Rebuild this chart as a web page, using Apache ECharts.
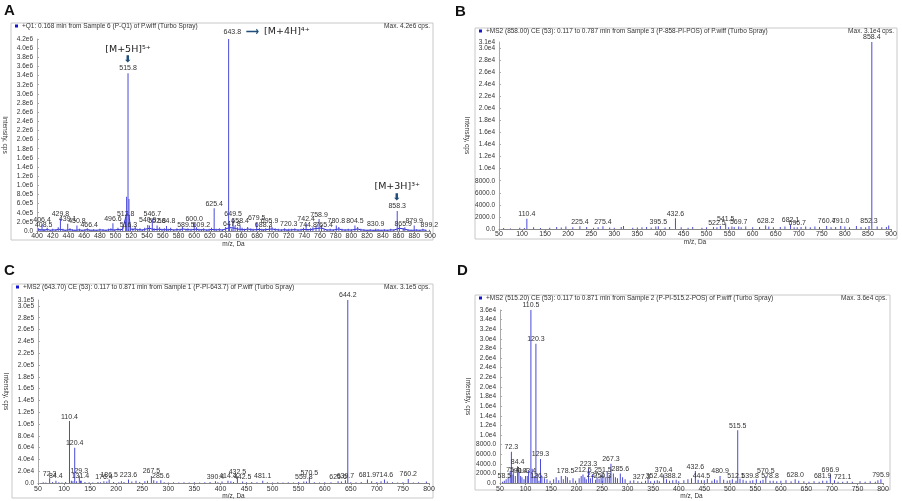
<!DOCTYPE html>
<html>
<head>
<meta charset="utf-8">
<script src="https://cdn.jsdelivr.net/npm/echarts@6/dist/echarts.min.js"></script>
<style>
  html, body { margin: 0; padding: 0; background: #fff; }
  #chart { width: 902px; height: 501px; }
</style>
</head>
<body>
<div id="chart"></div>
<script>
// panel titles
const panelLetters = ['A', 'B', 'C', 'D'];
const panelTitles = [
  '+Q1: 0.168 min from Sample 6 (P-Q1) of P.wiff (Turbo Spray)',
  '+MS2 (858.00) CE (53): 0.117 to 0.787 min from Sample 3 (P-858-PI-POS) of P.wiff (Turbo Spray)',
  '+MS2 (643.70) CE (53): 0.117 to 0.871 min from Sample 1 (P-PI-643.7) of P.wiff (Turbo Spray)',
  '+MS2 (515.20) CE (53): 0.117 to 0.871 min from Sample 2 (P-PI-515.2-POS) of P.wiff (Turbo Spray)'
];
const maxTexts = ['Max. 4.2e6 cps.', 'Max. 3.1e4 cps.', 'Max. 3.1e5 cps.', 'Max. 3.6e4 cps.'];

// axis ranges: [xmin, xmax, xstep, ymax, ystep]
const axisA = [400, 900, 20, 4200000, 200000];
const axisB = [50, 900, 50, 31000, 2000];
const axisC = [50, 800, 50, 310000, 20000];
const axisD = [50, 800, 50, 36000, 2000];
// panels whose max is not on a regular tick get an extra max label
const extraMaxPanels = [1, 2];

// A: Q1 scan, labelled peaks [m/z, intensity]
const aPeaks = [
  [406.4, 150000], [408.5, 40000], [429.8, 270000], [439.1, 160000], [450.8, 120000],
  [466.4, 30000], [496.6, 170000], [512.8, 280000], [515.8, 3450000], [516.3, 40000],
  [540.9, 130000], [546.7, 270000], [552.8, 120000], [564.8, 110000], [589.5, 40000],
  [600.0, 170000], [609.2, 40000], [625.4, 500000], [643.8, 4200000], [647.8, 50000],
  [649.5, 280000], [658.4, 120000], [679.5, 180000], [688.3, 40000], [695.9, 120000],
  [720.3, 50000], [742.4, 160000], [744.8, 40000], [758.9, 260000], [765.4, 40000],
  [780.8, 120000], [804.5, 120000], [830.9, 50000], [858.3, 440000], [865.9, 60000],
  [879.9, 120000], [899.2, 30000]
];
// A: unlabelled baseline
const aNoise = [
  [402, 60000], [404, 30000], [410, 40000], [413, 70000], [417, 30000], [420, 50000],
  [424, 40000], [427, 80000], [433, 50000], [436, 30000], [442, 60000], [445, 40000],
  [448, 30000], [454, 50000], [457, 30000], [461, 40000], [464, 60000], [469, 30000],
  [472, 40000], [476, 30000], [480, 50000], [484, 40000], [488, 30000], [491, 50000],
  [494, 60000], [499, 40000], [503, 70000], [506, 50000], [509, 80000], [514, 750000],
  [517, 700000], [519, 90000], [522, 60000], [525, 100000], [528, 50000], [531, 60000],
  [534, 40000], [537, 70000], [543, 120000], [549, 60000], [556, 80000], [559, 50000],
  [562, 60000], [567, 50000], [570, 70000], [574, 40000], [578, 60000], [582, 50000],
  [585, 90000], [592, 60000], [596, 50000], [603, 80000], [606, 50000], [612, 60000],
  [616, 40000], [619, 50000], [622, 70000], [628, 50000], [632, 60000], [636, 40000],
  [640, 90000], [645, 150000], [652, 120000], [655, 80000], [661, 70000], [664, 50000],
  [668, 90000], [672, 60000], [675, 50000], [683, 70000], [686, 50000], [691, 60000],
  [699, 90000], [703, 60000], [707, 50000], [711, 40000], [715, 60000], [718, 40000],
  [724, 50000], [728, 60000], [732, 40000], [736, 50000], [739, 70000], [748, 60000],
  [751, 80000], [755, 110000], [762, 130000], [769, 40000], [773, 50000], [777, 40000],
  [784, 90000], [788, 50000], [792, 40000], [796, 50000], [800, 40000], [808, 90000],
  [812, 50000], [816, 40000], [820, 30000], [824, 40000], [828, 30000], [834, 40000],
  [838, 30000], [842, 40000], [846, 30000], [850, 50000], [854, 40000], [861, 120000],
  [868, 80000], [872, 40000], [876, 30000], [883, 40000], [887, 30000], [891, 50000],
  [895, 30000]
];
const aNotes = [[515.8, '[M+5H]⁵⁺', 'down'], [643.8, '[M+4H]⁴⁺', 'right'], [858.3, '[M+3H]³⁺', 'down']];

// B: MS2 of 858
const bPeaks = [
  [110.4, 1700], [225.4, 450], [275.4, 450], [395.5, 450], [432.6, 1800], [522.5, 300],
  [541.5, 900], [569.7, 400], [628.2, 600], [682.1, 700], [696.7, 300], [760.4, 500],
  [791.0, 500], [852.3, 500], [858.4, 31000]
];
const bNoise = [
  [60, 150], [75, 100], [95, 200], [105, 150], [125, 300], [140, 150], [160, 200], [175, 350],
  [185, 250], [195, 400], [210, 300], [240, 350], [255, 200], [265, 300], [290, 250], [300, 200],
  [315, 350], [320, 500], [340, 200], [350, 250], [360, 300], [370, 350], [380, 250], [390, 400],
  [410, 250], [420, 350], [445, 300], [460, 200], [470, 350], [490, 200], [500, 300], [515, 350],
  [530, 500], [548, 300], [555, 400], [560, 350], [575, 300], [585, 400], [600, 300], [615, 350],
  [635, 400], [645, 300], [660, 350], [670, 400], [690, 300], [705, 350], [715, 400], [725, 300],
  [735, 400], [745, 350], [770, 300], [780, 350], [800, 400], [810, 300], [825, 500], [835, 350],
  [845, 300], [870, 400], [880, 300], [890, 350], [895, 600]
];

// C: MS2 of 643.7
const cPeaks = [
  [72.3, 8000], [84.4, 4000], [110.4, 105000], [120.4, 60000], [129.3, 13000], [131.4, 4000],
  [176.4, 3000], [186.5, 6000], [223.6, 6000], [267.5, 12000], [285.6, 5000], [390.4, 3000],
  [414.4, 4000], [432.5, 11000], [442.5, 2500], [481.1, 4000], [559.8, 2500], [570.5, 10000],
  [625.6, 3000], [639.7, 5000], [644.2, 310000], [681.9, 6000], [714.6, 6000], [760.2, 7000]
];
const cNoise = [
  [60, 1500], [65, 1000], [78, 2000], [90, 1500], [96, 1000], [103, 2000], [114, 4000], [117, 3000],
  [124, 3000], [133, 4000], [140, 2000], [148, 1500], [155, 1000], [165, 2000], [170, 1500], [182, 2500],
  [195, 2000], [205, 1500], [210, 3000], [215, 2000], [230, 2500], [238, 4000], [245, 2000], [255, 3000],
  [260, 4000], [272, 5000], [278, 3000], [292, 1500], [300, 1000], [310, 1500], [320, 1000], [330, 1500],
  [340, 1000], [350, 1500], [360, 1000], [370, 1500], [380, 2000], [395, 1500], [403, 2500], [420, 3000],
  [425, 2000], [450, 1500], [460, 2000], [470, 1500], [490, 1500], [500, 1000], [510, 1500], [520, 1000],
  [530, 1500], [540, 1000], [550, 2000], [565, 2500], [580, 1500], [590, 1000], [600, 1500], [612, 1500],
  [632, 2500], [650, 1500], [660, 1500], [670, 2000], [690, 3000], [700, 2000], [708, 3000], [720, 2500],
  [730, 1500], [740, 1000], [750, 1500], [770, 1000], [780, 1500], [795, 2500]
];

// D: MS2 of 515.2
const dPeaks = [
  [58.5, 500], [72.3, 6500], [75.4, 1800], [84.4, 3500], [90.4, 1500], [103.4, 1500],
  [110.5, 36000], [120.3, 29000], [126.3, 500], [129.3, 5000], [178.5, 1500], [212.5, 1800],
  [223.3, 3000], [237.2, 700], [250.3, 500], [251.5, 1700], [267.3, 4000], [285.6, 2000],
  [327.3, 300], [352.4, 500], [370.4, 1800], [388.2, 600], [432.6, 2500], [444.5, 600],
  [480.9, 1500], [512.1, 500], [515.5, 11000], [539.8, 500], [570.5, 1500], [578.8, 500],
  [628.0, 800], [681.9, 500], [696.9, 1800], [721.1, 300], [795.9, 800]
];
const dNoise = [
  [55, 300], [62, 800], [66, 1200], [70, 2500], [76, 3000], [80, 1500], [87, 2500], [93, 1200],
  [97, 800], [100, 1500], [106, 2500], [113, 3000], [117, 1500], [123, 2000], [132, 1500], [137, 1000],
  [142, 800], [148, 500], [155, 800], [160, 1200], [165, 600], [170, 1500], [174, 800], [182, 1200],
  [187, 600], [193, 1000], [198, 500], [205, 1000], [209, 1500], [216, 1200], [219, 800], [227, 1000],
  [231, 1800], [240, 1200], [244, 900], [248, 1500], [256, 1200], [260, 2500], [264, 1500], [272, 2000],
  [276, 1200], [280, 1000], [290, 1200], [295, 800], [305, 500], [312, 600], [320, 400], [335, 500],
  [340, 800], [345, 400], [358, 600], [362, 400], [376, 800], [382, 500], [395, 700], [400, 400],
  [410, 600], [418, 800], [425, 1000], [438, 700], [450, 600], [456, 900], [465, 500], [470, 800],
  [475, 600], [488, 700], [495, 500], [500, 600], [505, 800], [520, 900], [526, 700], [532, 500],
  [545, 600], [552, 800], [560, 500], [565, 700], [585, 500], [592, 400], [600, 500], [610, 600],
  [620, 400], [635, 500], [645, 400], [655, 300], [665, 400], [675, 300], [690, 500], [705, 600],
  [712, 300], [730, 400], [740, 300], [755, 400], [765, 300], [775, 400], [785, 300], [790, 600]
];

// pixel layout of the four plot areas and their frames
const grids = [
  { left: 37, top: 39, width: 393, height: 192 },
  { left: 499, top: 42, width: 392, height: 187 },
  { left: 38, top: 300, width: 391, height: 187 },
  { left: 500, top: 310, width: 383, height: 174 }
];
const frames = [
  [11, 23, 422, 217],
  [475, 28, 422, 211],
  [12, 284, 421, 214],
  [475, 295, 415, 195]
];
const letterPos = [[4, 3], [455, 4], [4, 263], [457, 263]];

const FONT = 'Liberation Sans';
const BAR = '#4a4ad8';

function fmtY(v) {
  if (v === 0) return '0.0';
  if (v < 10000) return v.toFixed(1);
  const e = Math.floor(Math.log10(v) + 1e-9);
  return (v / Math.pow(10, e)).toFixed(1) + 'e' + e;
}

function peakData(noise, peaks, notes) {
  const items = noise.map(p => ({ value: p }));
  peaks.forEach(p => {
    const item = { value: p, label: { show: true } };
    const note = (notes || []).find(n => n[0] === p[0]);
    if (note) {
      if (note[2] === 'down') {
        item.label.formatter = '{n|' + note[1] + '}\n{a|⬇}\n{v|' + p[0].toFixed(1) + '}';
      } else {
        item.label.formatter = '{v|' + p[0].toFixed(1) + '}{a|  ⟶  }{n|' + note[1] + '}';
        item.label.offset = [38, 0];
      }
    }
    items.push(item);
  });
  return items;
}

const axes = [axisA, axisB, axisC, axisD];
const peakSets = [[aNoise, aPeaks, aNotes], [bNoise, bPeaks], [cNoise, cPeaks], [dNoise, dPeaks]];
const yLabelStyle = { fontSize: 6.5, color: '#333', margin: 4, fontFamily: FONT };

const option = {
  animation: false,
  backgroundColor: '#fff',
  textStyle: { fontFamily: FONT },
  grid: grids,
  xAxis: axes.map((a, i) => ({
    type: 'value', gridIndex: i, min: a[0], max: a[1], interval: a[2],
    name: 'm/z, Da', nameLocation: 'middle', nameGap: 9,
    nameTextStyle: { fontSize: 6.5, color: '#333', fontFamily: FONT },
    splitLine: { show: false },
    axisLine: { lineStyle: { color: '#888', width: 1 } },
    axisTick: { length: 2, lineStyle: { color: '#888' } },
    axisLabel: { fontSize: 7, color: '#333', margin: 2, fontFamily: FONT, showMinLabel: true, showMaxLabel: true }
  })),
  yAxis: axes.map((a, i) => ({
    type: 'value', gridIndex: i, min: 0, max: a[3], interval: a[4],
    name: 'Intensity, cps', nameLocation: 'middle', nameRotate: -90, nameGap: 29,
    nameTextStyle: { fontSize: 6.5, color: '#333', fontFamily: FONT },
    splitLine: { show: false },
    axisLine: { show: true, lineStyle: { color: '#aaa', width: 1 } },
    axisTick: { show: true, length: 2, inside: true, lineStyle: { color: '#aaa' } },
    axisLabel: Object.assign({ formatter: fmtY }, yLabelStyle)
  })).concat(extraMaxPanels.map(i => ({
    // second axis only for the max label (e.g. 3.1e4 just above 3.0e4)
    type: 'value', gridIndex: i, position: 'left', min: 0, max: axes[i][3], interval: axes[i][3],
    splitLine: { show: false }, axisLine: { show: false }, axisTick: { show: false },
    axisLabel: Object.assign({ formatter: v => (v === axes[i][3] ? fmtY(v) : '') }, yLabelStyle)
  }))),
  series: peakSets.map((s, i) => ({
    type: 'bar', xAxisIndex: i, yAxisIndex: i,
    barWidth: 1,
    itemStyle: { color: BAR },
    label: {
      show: false, position: 'top', distance: 1,
      fontSize: 7, color: '#333', fontFamily: FONT,
      formatter: p => p.value[0].toFixed(1),
      rich: {
        v: { fontSize: 7, color: '#333', lineHeight: 8, fontFamily: FONT },
        a: { fontSize: 9, color: '#1f4e79', lineHeight: 9, fontWeight: 'bold' },
        n: { fontSize: 9.5, color: '#222', lineHeight: 12, fontFamily: 'DejaVu Sans' }
      }
    },
    data: peakData(s[0], s[1], s[2])
  })).concat([{
    // continuous baseline trace of the Q1 scan
    type: 'line', xAxisIndex: 0, yAxisIndex: 0,
    showSymbol: false, silent: true, z: 1,
    lineStyle: { color: '#2a2ad0', width: 1 },
    data: aNoise.map(p => [p[0], p[1] * 0.5])
  }]),
  graphic: []
};

frames.forEach((f, i) => {
  option.graphic.push({
    type: 'rect', silent: true, z: -1,
    shape: { x: f[0], y: f[1], width: f[2], height: f[3] },
    style: { fill: 'none', stroke: '#c8c8c8', lineWidth: 1 }
  });
  option.graphic.push({
    type: 'rect', silent: true,
    shape: { x: f[0] + 4, y: f[1] + 1.5, width: 3, height: 3 },
    style: { fill: '#1515d0' }
  });
  option.graphic.push({
    type: 'text', silent: true,
    style: { x: f[0] + 11, y: f[1] + 3, text: panelTitles[i], fontSize: 6.5, fill: '#333', fontFamily: FONT, verticalAlign: 'middle' }
  });
  option.graphic.push({
    type: 'text', silent: true,
    style: { x: f[0] + f[2] - 3, y: f[1] + 3, text: maxTexts[i], fontSize: 6.5, fill: '#333', fontFamily: FONT, align: 'right', verticalAlign: 'middle' }
  });
  option.graphic.push({
    type: 'text', silent: true,
    style: { x: letterPos[i][0], y: letterPos[i][1], text: panelLetters[i], fontSize: 15, fontWeight: 'bold', fill: '#111', fontFamily: FONT }
  });
});

const chart = echarts.init(document.getElementById('chart'));
chart.setOption(option);
</script>
</body>
</html>
